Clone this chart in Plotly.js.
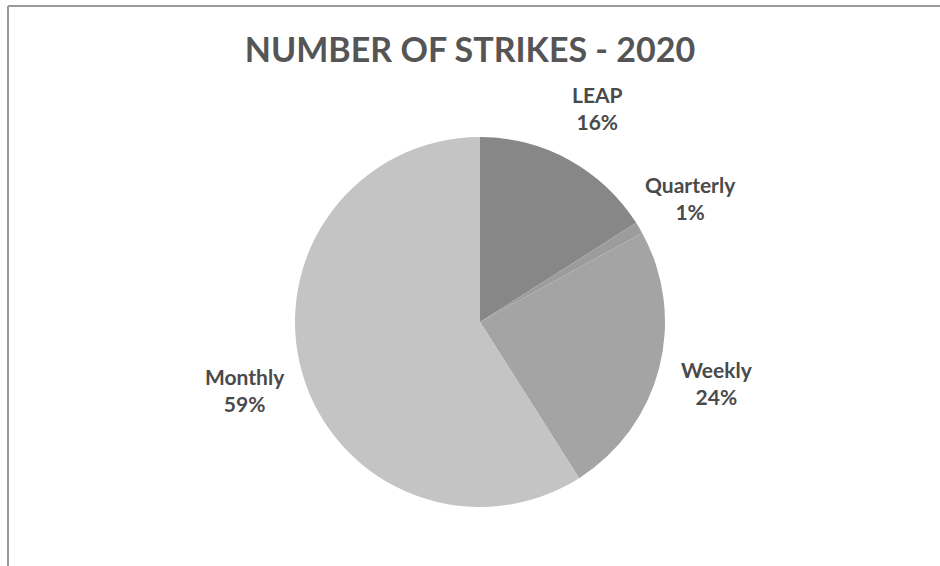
<!DOCTYPE html>
<html>
<head>
<meta charset="utf-8">
<script src="https://cdn.plot.ly/plotly-3.0.1.min.js"></script>
<style>html,body{margin:0;padding:0;background:#fff;}#chart{width:940px;height:566px;}</style>
</head>
<body>
<div id="chart"></div>
<script>
var categories = ["LEAP", "Quarterly", "Weekly", "Monthly"];
var shares = [16, 1, 24, 59];
var sliceColors = ["#878787", "#9c9c9c", "#a4a4a4", "#c4c4c4"];
var chartTitle = "NUMBER OF STRIKES - 2020";

var W = 940, H = 566;
var cx = 480, cy = 322, R = 185;
var domX = [(cx - R) / W, (cx + R) / W];
var domY = [(H - cy - R) / H, (H - cy + R) / H];

// label positions derived from slice mid-angles (clockwise from 12 o'clock)
var total = shares.reduce(function (a, b) { return a + b; }, 0);
var annotations = [];
var cum = 0;
var labelDist = 1.32;
for (var i = 0; i < categories.length; i++) {
  var mid = (cum + shares[i] / 2) / total * 2 * Math.PI;
  cum += shares[i];
  var px = cx + Math.sin(mid) * R * labelDist;
  var py = cy - Math.cos(mid) * R * labelDist;
  annotations.push({
    xref: "paper", yref: "paper",
    x: px / W, y: 1 - py / H,
    xanchor: "center", yanchor: "middle",
    showarrow: false, align: "center",
    text: "<b>" + categories[i] + "<br>" + Math.round(shares[i] / total * 100) + "%</b>",
    font: {family: "Lato, 'Open Sans', sans-serif", size: 21, color: "#4a4a4a"}
  });
}

var data = [{
  type: "pie",
  labels: categories,
  values: shares,
  sort: false,
  direction: "clockwise",
  rotation: 0,
  marker: {colors: sliceColors, line: {width: 0}},
  textinfo: "none",
  hoverinfo: "label+percent",
  showlegend: false,
  domain: {x: domX, y: domY}
}];

var layout = {
  width: W, height: H,
  margin: {l: 0, r: 0, t: 0, b: 0},
  paper_bgcolor: "#ffffff",
  plot_bgcolor: "#ffffff",
  title: {
    text: "<b>" + chartTitle + "</b>",
    x: 0.5, xanchor: "center",
    y: 1 - 50 / H, yanchor: "middle",
    font: {family: "Lato, 'Open Sans', sans-serif", size: 34, color: "#555555"}
  },
  annotations: annotations,
  shapes: [
    {type: "line", xref: "paper", yref: "paper", x0: 8 / W, x1: 8 / W, y0: 0, y1: 1 - 6 / H,
     line: {color: "#9a9a9a", width: 2}},
    {type: "line", xref: "paper", yref: "paper", x0: 8 / W, x1: 1, y0: 1 - 6 / H, y1: 1 - 6 / H,
     line: {color: "#9a9a9a", width: 2}}
  ]
};

Plotly.newPlot("chart", data, layout, {displayModeBar: false, staticPlot: true});
</script>
</body>
</html>
